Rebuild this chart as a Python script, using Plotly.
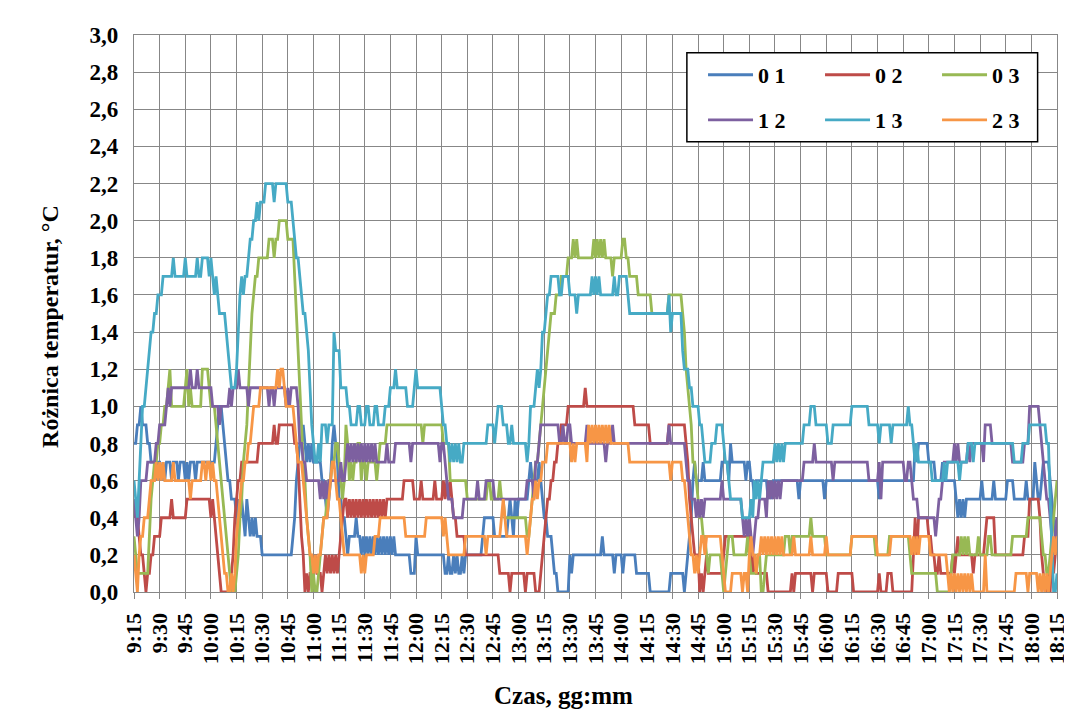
import plotly.graph_objects as go

# minutes after 9:15, one reading per minute (0..540)
N_MIN = 541

# change points: (minute, value in tenths of a degree); value holds until the next point
S01 = [(0,8),(2,9),(4,10),(5,9),(8,8),(10,7),(13,6),(14,7),(16,6),(17,7),(18,6),(19,7),(22,6),(23,7),(26,6),(27,7),(30,6),(31,7),(32,6),(33,7),(36,6),(37,7),(48,8),(49,9),(50,10),(52,9),(53,8),(54,7),(55,6),(57,5),(60,4),(61,5),(62,4),(63,5),(64,4),(65,3),(66,5),(67,4),(68,3),(69,4),(70,3),(71,4),(72,3),(75,2),(93,3),(94,4),(95,6),(96,7),(97,8),(99,9),(100,8),(101,7),(102,8),(103,7),(104,8),(105,7),(110,6),(112,5),(113,4),(114,5),(115,6),(116,8),(117,9),(118,8),(119,7),(120,5),(122,4),(124,3),(125,2),(126,3),(130,4),(131,3),(133,2),(134,3),(135,2),(136,3),(137,2),(138,3),(139,2),(140,3),(141,2),(142,3),(143,2),(144,3),(145,2),(146,3),(147,2),(148,3),(149,2),(150,3),(151,2),(152,3),(153,2),(162,1),(165,3),(166,2),(182,1),(184,2),(185,1),(187,2),(188,1),(189,2),(190,1),(192,2),(193,1),(194,2),(204,3),(205,4),(211,3),(219,4),(220,5),(221,4),(222,3),(223,5),(224,4),(225,5),(231,6),(232,7),(233,6),(237,7),(238,6),(239,5),(240,4),(242,3),(245,2),(246,1),(248,0),(255,2),(256,1),(257,2),(274,3),(275,2),(281,1),(282,2),(286,1),(287,2),(294,1),(302,0),(314,1),(322,0),(323,1),(324,2),(325,3),(326,4),(327,6),(328,7),(329,6),(333,7),(334,6),(344,7),(348,6),(349,8),(350,7),(358,6),(359,7),(361,6),(363,5),(364,6),(371,5),(372,6),(373,5),(374,6),(389,5),(390,6),(404,5),(405,6),(436,5),(437,6),(457,8),(458,7),(459,8),(465,7),(469,6),(473,7),(474,6),(481,5),(482,4),(483,5),(484,4),(485,5),(486,4),(487,5),(496,6),(497,5),(503,6),(504,5),(511,6),(515,5),(522,6),(523,5),(527,7),(528,6),(529,5),(531,6),(532,7),(536,6),(537,5),(538,4),(539,3),(540,4)]

S02 = [(0,4),(1,5),(2,4),(3,3),(4,2),(6,1),(7,0),(8,1),(10,2),(12,3),(16,4),(22,5),(23,4),(31,5),(45,4),(46,5),(47,4),(48,3),(49,2),(50,1),(51,0),(57,1),(58,2),(59,4),(60,5),(61,6),(63,7),(73,8),(82,9),(83,8),(85,9),(94,8),(96,7),(97,5),(98,3),(99,2),(100,0),(101,1),(102,0),(103,1),(106,2),(107,1),(110,0),(111,1),(112,2),(113,1),(114,2),(115,1),(116,2),(117,1),(118,2),(119,1),(120,2),(121,3),(122,4),(123,5),(125,4),(126,5),(127,4),(128,5),(129,4),(130,5),(131,4),(132,5),(133,4),(134,5),(135,4),(136,5),(137,4),(138,5),(139,4),(140,5),(141,4),(142,5),(143,4),(144,5),(145,4),(146,5),(147,4),(148,5),(158,6),(164,5),(168,6),(169,5),(176,6),(177,5),(181,6),(182,5),(183,6),(184,5),(185,6),(186,5),(187,4),(189,3),(194,2),(214,1),(220,0),(221,1),(229,0),(230,1),(235,0),(238,1),(239,2),(240,3),(241,4),(242,5),(244,6),(246,7),(248,8),(250,9),(254,10),(264,11),(265,10),(293,9),(302,8),(313,9),(323,8),(324,7),(325,5),(326,4),(327,3),(328,2),(331,0),(332,1),(333,0),(334,1),(335,2),(336,1),(345,2),(346,3),(361,2),(362,1),(363,2),(364,1),(371,0),(385,1),(386,0),(387,1),(397,0),(398,1),(406,0),(412,1),(421,0),(436,1),(437,0),(441,1),(444,0),(456,2),(457,4),(458,2),(459,4),(465,3),(467,2),(469,1),(471,2),(472,1),(479,2),(480,1),(481,2),(482,3),(483,2),(491,1),(492,2),(498,3),(499,4),(504,2),(521,3),(524,5),(530,4),(531,2),(532,1),(533,0),(535,1),(536,0),(537,2),(538,1),(539,2),(540,3)]

S03 = [(0,3),(1,2),(2,1),(9,3),(10,5),(11,6),(12,7),(14,8),(16,9),(18,10),(20,11),(21,12),(22,10),(30,11),(31,12),(32,10),(33,11),(34,10),(40,12),(44,11),(45,10),(48,9),(49,8),(50,7),(51,6),(52,5),(53,4),(54,3),(55,2),(56,1),(57,0),(60,1),(61,2),(62,4),(63,5),(64,7),(65,8),(66,9),(67,11),(68,13),(69,15),(70,16),(71,17),(73,18),(79,19),(82,18),(83,19),(85,20),(90,19),(94,17),(95,15),(96,13),(97,11),(98,9),(99,7),(100,6),(101,4),(102,3),(103,2),(104,0),(105,1),(106,0),(108,1),(109,2),(110,3),(111,4),(113,5),(114,6),(116,7),(118,8),(120,7),(121,6),(122,5),(123,6),(124,9),(125,8),(126,6),(127,7),(128,6),(129,7),(131,8),(133,6),(134,7),(136,6),(137,7),(142,6),(143,7),(144,8),(148,9),(169,8),(170,9),(181,8),(185,6),(195,5),(207,6),(209,5),(214,6),(215,5),(217,4),(230,3),(232,4),(233,5),(234,6),(235,7),(237,8),(238,9),(239,10),(240,11),(241,12),(242,13),(243,14),(244,15),(247,16),(250,17),(254,18),(257,19),(258,18),(259,19),(260,18),(269,19),(270,18),(271,19),(272,18),(273,19),(274,18),(275,19),(276,18),(280,17),(281,18),(286,19),(288,18),(290,17),(295,16),(303,15),(313,16),(321,15),(322,14),(323,12),(324,11),(325,10),(326,9),(327,7),(329,6),(330,5),(331,4),(333,3),(335,2),(336,1),(337,2),(344,1),(345,0),(346,1),(347,2),(348,3),(351,2),(359,3),(360,2),(361,1),(365,2),(367,0),(369,1),(370,2),(381,3),(384,2),(385,3),(396,4),(397,3),(405,2),(420,3),(434,2),(442,3),(454,2),(455,1),(470,0),(478,1),(479,2),(484,3),(485,2),(486,3),(487,2),(488,3),(489,2),(494,3),(495,2),(500,3),(502,2),(514,3),(523,4),(531,3),(532,2),(534,1),(536,2),(537,3),(538,4),(539,5),(540,6)]

S12 = [(0,5),(1,4),(2,3),(3,4),(4,6),(8,7),(13,8),(15,9),(19,10),(20,11),(21,10),(22,11),(33,12),(34,11),(37,12),(38,11),(46,10),(50,9),(51,10),(56,11),(57,10),(58,11),(61,12),(62,11),(67,10),(68,11),(79,10),(80,11),(82,10),(83,11),(89,10),(90,11),(91,10),(92,11),(96,10),(97,8),(99,7),(101,6),(109,5),(110,6),(111,5),(112,6),(113,5),(114,6),(121,7),(122,6),(124,7),(125,8),(126,7),(127,8),(128,7),(129,8),(130,7),(131,8),(132,7),(133,8),(134,7),(135,8),(136,7),(137,8),(138,7),(139,8),(140,7),(141,8),(142,7),(148,8),(149,7),(153,8),(162,7),(163,8),(179,7),(180,8),(182,7),(183,6),(184,5),(187,4),(193,5),(201,6),(202,5),(206,6),(211,5),(230,6),(234,5),(235,7),(237,8),(238,9),(249,8),(251,9),(252,8),(254,9),(256,8),(265,9),(266,8),(276,7),(277,8),(280,9),(281,8),(313,9),(314,8),(323,7),(324,6),(326,5),(329,4),(330,5),(331,4),(332,5),(333,4),(334,5),(344,6),(345,5),(356,4),(357,3),(358,4),(359,3),(360,4),(361,3),(362,2),(363,3),(364,4),(366,5),(370,4),(371,6),(372,5),(373,6),(374,5),(375,6),(376,5),(377,6),(378,5),(379,6),(392,7),(398,8),(399,7),(409,6),(410,7),(430,6),(436,7),(437,5),(438,7),(451,6),(453,7),(455,6),(456,5),(459,4),(469,3),(470,4),(471,5),(473,6),(474,7),(480,8),(481,7),(482,8),(483,7),(488,8),(489,7),(490,8),(497,7),(498,9),(502,8),(514,7),(521,8),(524,10),(530,9),(531,8),(532,7),(533,6),(534,5),(536,4),(537,3),(538,2),(539,3),(540,4)]

S13 = [(0,6),(1,5),(2,4),(3,6),(4,8),(5,10),(7,11),(8,12),(9,13),(10,14),(12,15),(14,16),(17,17),(23,18),(24,17),(30,18),(31,17),(37,18),(38,17),(40,18),(44,17),(45,18),(46,17),(47,16),(48,17),(49,16),(50,15),(54,14),(55,13),(56,12),(57,11),(60,12),(61,14),(62,16),(63,17),(64,16),(65,17),(67,18),(68,19),(70,20),(72,21),(73,20),(74,21),(77,22),(82,21),(83,22),(90,21),(93,20),(94,19),(95,18),(97,17),(98,16),(99,15),(101,14),(102,13),(103,11),(104,9),(105,8),(106,7),(108,8),(109,7),(110,9),(113,8),(114,9),(117,14),(118,13),(121,11),(125,10),(127,9),(131,10),(133,9),(136,10),(138,9),(141,10),(143,9),(147,10),(150,11),(153,12),(154,11),(160,10),(164,11),(165,12),(166,11),(180,10),(181,9),(183,8),(185,7),(186,8),(187,7),(188,8),(189,7),(190,8),(191,7),(193,8),(207,9),(211,8),(212,9),(213,10),(216,9),(219,8),(221,9),(222,8),(230,7),(231,8),(232,10),(235,11),(236,12),(237,11),(238,12),(239,14),(241,15),(242,16),(244,17),(249,16),(251,17),(255,16),(259,15),(260,16),(268,17),(269,16),(270,17),(271,16),(272,17),(273,16),(281,17),(282,16),(284,17),(289,16),(290,15),(313,16),(314,14),(315,15),(321,13),(322,12),(325,11),(327,10),(331,9),(333,8),(334,7),(338,8),(341,9),(345,8),(346,7),(348,6),(349,5),(356,4),(361,5),(362,4),(363,6),(364,5),(365,6),(366,5),(367,6),(368,7),(375,8),(376,7),(377,8),(378,7),(379,8),(380,7),(381,8),(392,9),(396,10),(399,9),(406,8),(409,9),(420,10),(430,9),(436,8),(437,9),(443,8),(444,9),(453,10),(454,9),(456,8),(457,7),(458,8),(459,7),(467,6),(474,7),(475,6),(476,7),(483,6),(484,7),(488,8),(491,7),(492,8),(515,7),(520,8),(524,9),(534,8),(536,5),(537,2),(538,0),(540,1)]

S23 = [(0,2),(1,1),(2,0),(3,2),(4,3),(6,4),(9,5),(10,6),(13,7),(14,6),(15,7),(16,6),(17,7),(18,6),(23,7),(24,6),(33,5),(34,6),(40,7),(42,6),(43,7),(45,6),(46,7),(47,6),(49,5),(50,4),(51,3),(52,2),(53,1),(55,0),(57,1),(58,0),(59,1),(60,3),(61,4),(62,5),(63,6),(65,7),(67,8),(69,9),(70,10),(74,11),(84,12),(85,11),(86,12),(88,11),(89,10),(94,9),(95,8),(96,7),(99,6),(100,5),(101,4),(102,3),(103,2),(105,1),(106,2),(107,1),(108,2),(110,3),(111,4),(114,5),(115,6),(116,7),(118,6),(119,5),(121,4),(122,3),(123,2),(133,1),(134,2),(135,1),(136,2),(141,3),(144,4),(159,3),(171,4),(181,3),(182,4),(183,3),(184,2),(194,3),(206,2),(207,3),(215,4),(216,5),(217,4),(218,3),(230,2),(231,3),(232,4),(233,5),(235,6),(236,5),(237,6),(239,7),(242,8),(256,7),(257,8),(258,7),(259,8),(265,7),(266,9),(267,8),(268,9),(269,8),(270,9),(271,8),(272,9),(273,8),(274,9),(275,8),(276,9),(277,8),(278,9),(279,8),(290,7),(314,6),(315,7),(321,6),(323,5),(324,4),(325,3),(326,2),(328,1),(329,2),(330,1),(331,2),(332,3),(334,2),(335,3),(344,2),(345,1),(346,0),(350,1),(356,0),(357,1),(359,0),(360,2),(361,3),(362,2),(364,1),(365,2),(367,3),(368,2),(369,3),(370,2),(371,3),(372,2),(373,3),(374,2),(375,3),(376,2),(377,3),(378,2),(379,3),(380,2),(386,3),(387,2),(396,3),(397,2),(405,3),(406,2),(420,3),(435,2),(443,3),(455,2),(456,3),(457,2),(458,3),(459,2),(460,3),(466,2),(476,1),(477,0),(478,1),(479,0),(480,1),(481,0),(482,1),(483,0),(484,1),(485,0),(486,1),(487,0),(488,1),(489,0),(490,1),(491,0),(498,2),(499,0),(516,1),(523,0),(524,1),(529,0),(530,1),(531,0),(532,1),(533,0),(534,1),(535,0),(536,1),(537,2),(538,3),(539,2),(540,3)]

SERIES = ["0 1", "0 2", "0 3", "1 2", "1 3", "2 3"]
COLORS = ["#4A7EBB", "#BE4B48", "#98B954", "#7D60A0", "#46AAC5", "#F79646"]

TICK_LABELS = ["9:15", "9:30", "9:45", "10:00", "10:15", "10:30", "10:45", "11:00",
               "11:15", "11:30", "11:45", "12:00", "12:15", "12:30", "12:45", "13:00",
               "13:15", "13:30", "13:45", "14:00", "14:15", "14:30", "14:45", "15:00",
               "15:15", "15:30", "15:45", "16:00", "16:15", "16:30", "16:45", "17:00",
               "17:15", "17:30", "17:45", "18:00", "18:15"]


def expand(points, n=N_MIN):
    """Turn change points into one value per minute"""
    vals = []
    for i, (t, v) in enumerate(points):
        end = points[i + 1][0] if i + 1 < len(points) else n
        vals += [v / 10] * (end - t)
    return vals


FONT = "Liberation Serif"
GRID = "#878787"
minutes = list(range(N_MIN))

fig = go.Figure()
all_points = [S01, S02, S03, S12, S13, S23]
for i, (name, pts, col) in enumerate(zip(SERIES, all_points, COLORS)):
    fig.add_trace(go.Scatter(x=minutes, y=expand(pts), mode="lines", name=name,
                             legend="legend" if i < 3 else "legend2",
                             line=dict(color=col, width=2.8)))

legend_style = dict(
    orientation="h", xanchor="left", yanchor="top",
    bgcolor="rgba(0,0,0,0)", borderwidth=0,
    entrywidth=57, entrywidthmode="pixels", itemwidth=45,
    font=dict(family=FONT, size=22, color="black", weight="bold"),
)

fig.update_layout(
    width=1072, height=718,
    # page body adds an 8px offset, margins are shifted to compensate
    margin=dict(l=126, r=23, t=27, b=134),
    paper_bgcolor="white", plot_bgcolor="white",
    separators=", ",
    font=dict(family=FONT, size=20, color="black", weight="bold"),
    showlegend=True,
    legend=dict(x=0.6165, y=0.966, **legend_style),
    legend2=dict(x=0.6165, y=0.885, **legend_style),
    shapes=[dict(type="rect", xref="paper", yref="paper",
                 x0=0.599, x1=0.979, y0=0.8084, y1=0.968,
                 fillcolor="white", line=dict(color="black", width=1.5),
                 layer="above")],
    annotations=[
        dict(text="Czas, gg:mm", xref="paper", yref="paper", x=0.465, y=-0.185,
             xanchor="center", yanchor="middle", showarrow=False,
             font=dict(family=FONT, size=25, weight="bold")),
        dict(text="Różnica temperatur, °C", xref="paper", yref="paper", x=-0.091, y=0.476,
             xanchor="center", yanchor="middle", textangle=-90, showarrow=False,
             font=dict(family=FONT, size=24, weight="bold")),
    ],
)

fig.update_xaxes(
    range=[0, 540], tickmode="array",
    tickvals=list(range(0, N_MIN, 15)), ticktext=TICK_LABELS,
    tickangle=-90, ticks="outside", ticklen=6, tickcolor=GRID, ticklabelstandoff=5,
    showgrid=True, gridcolor=GRID, gridwidth=1.4,
    showline=True, linecolor=GRID, linewidth=1.4, mirror=True,
    zeroline=False,
    tickfont=dict(family=FONT, size=22, weight="bold"),
)
fig.update_yaxes(
    range=[0, 3.0], dtick=0.2, tickformat=".1f",
    showgrid=True, gridcolor=GRID, gridwidth=1.4,
    showline=True, linecolor=GRID, linewidth=1.4, mirror=True,
    zeroline=False, ticks="", ticklabelstandoff=10,
    tickfont=dict(family=FONT, size=23, weight="bold"),
)

fig.write_html("out.html")
